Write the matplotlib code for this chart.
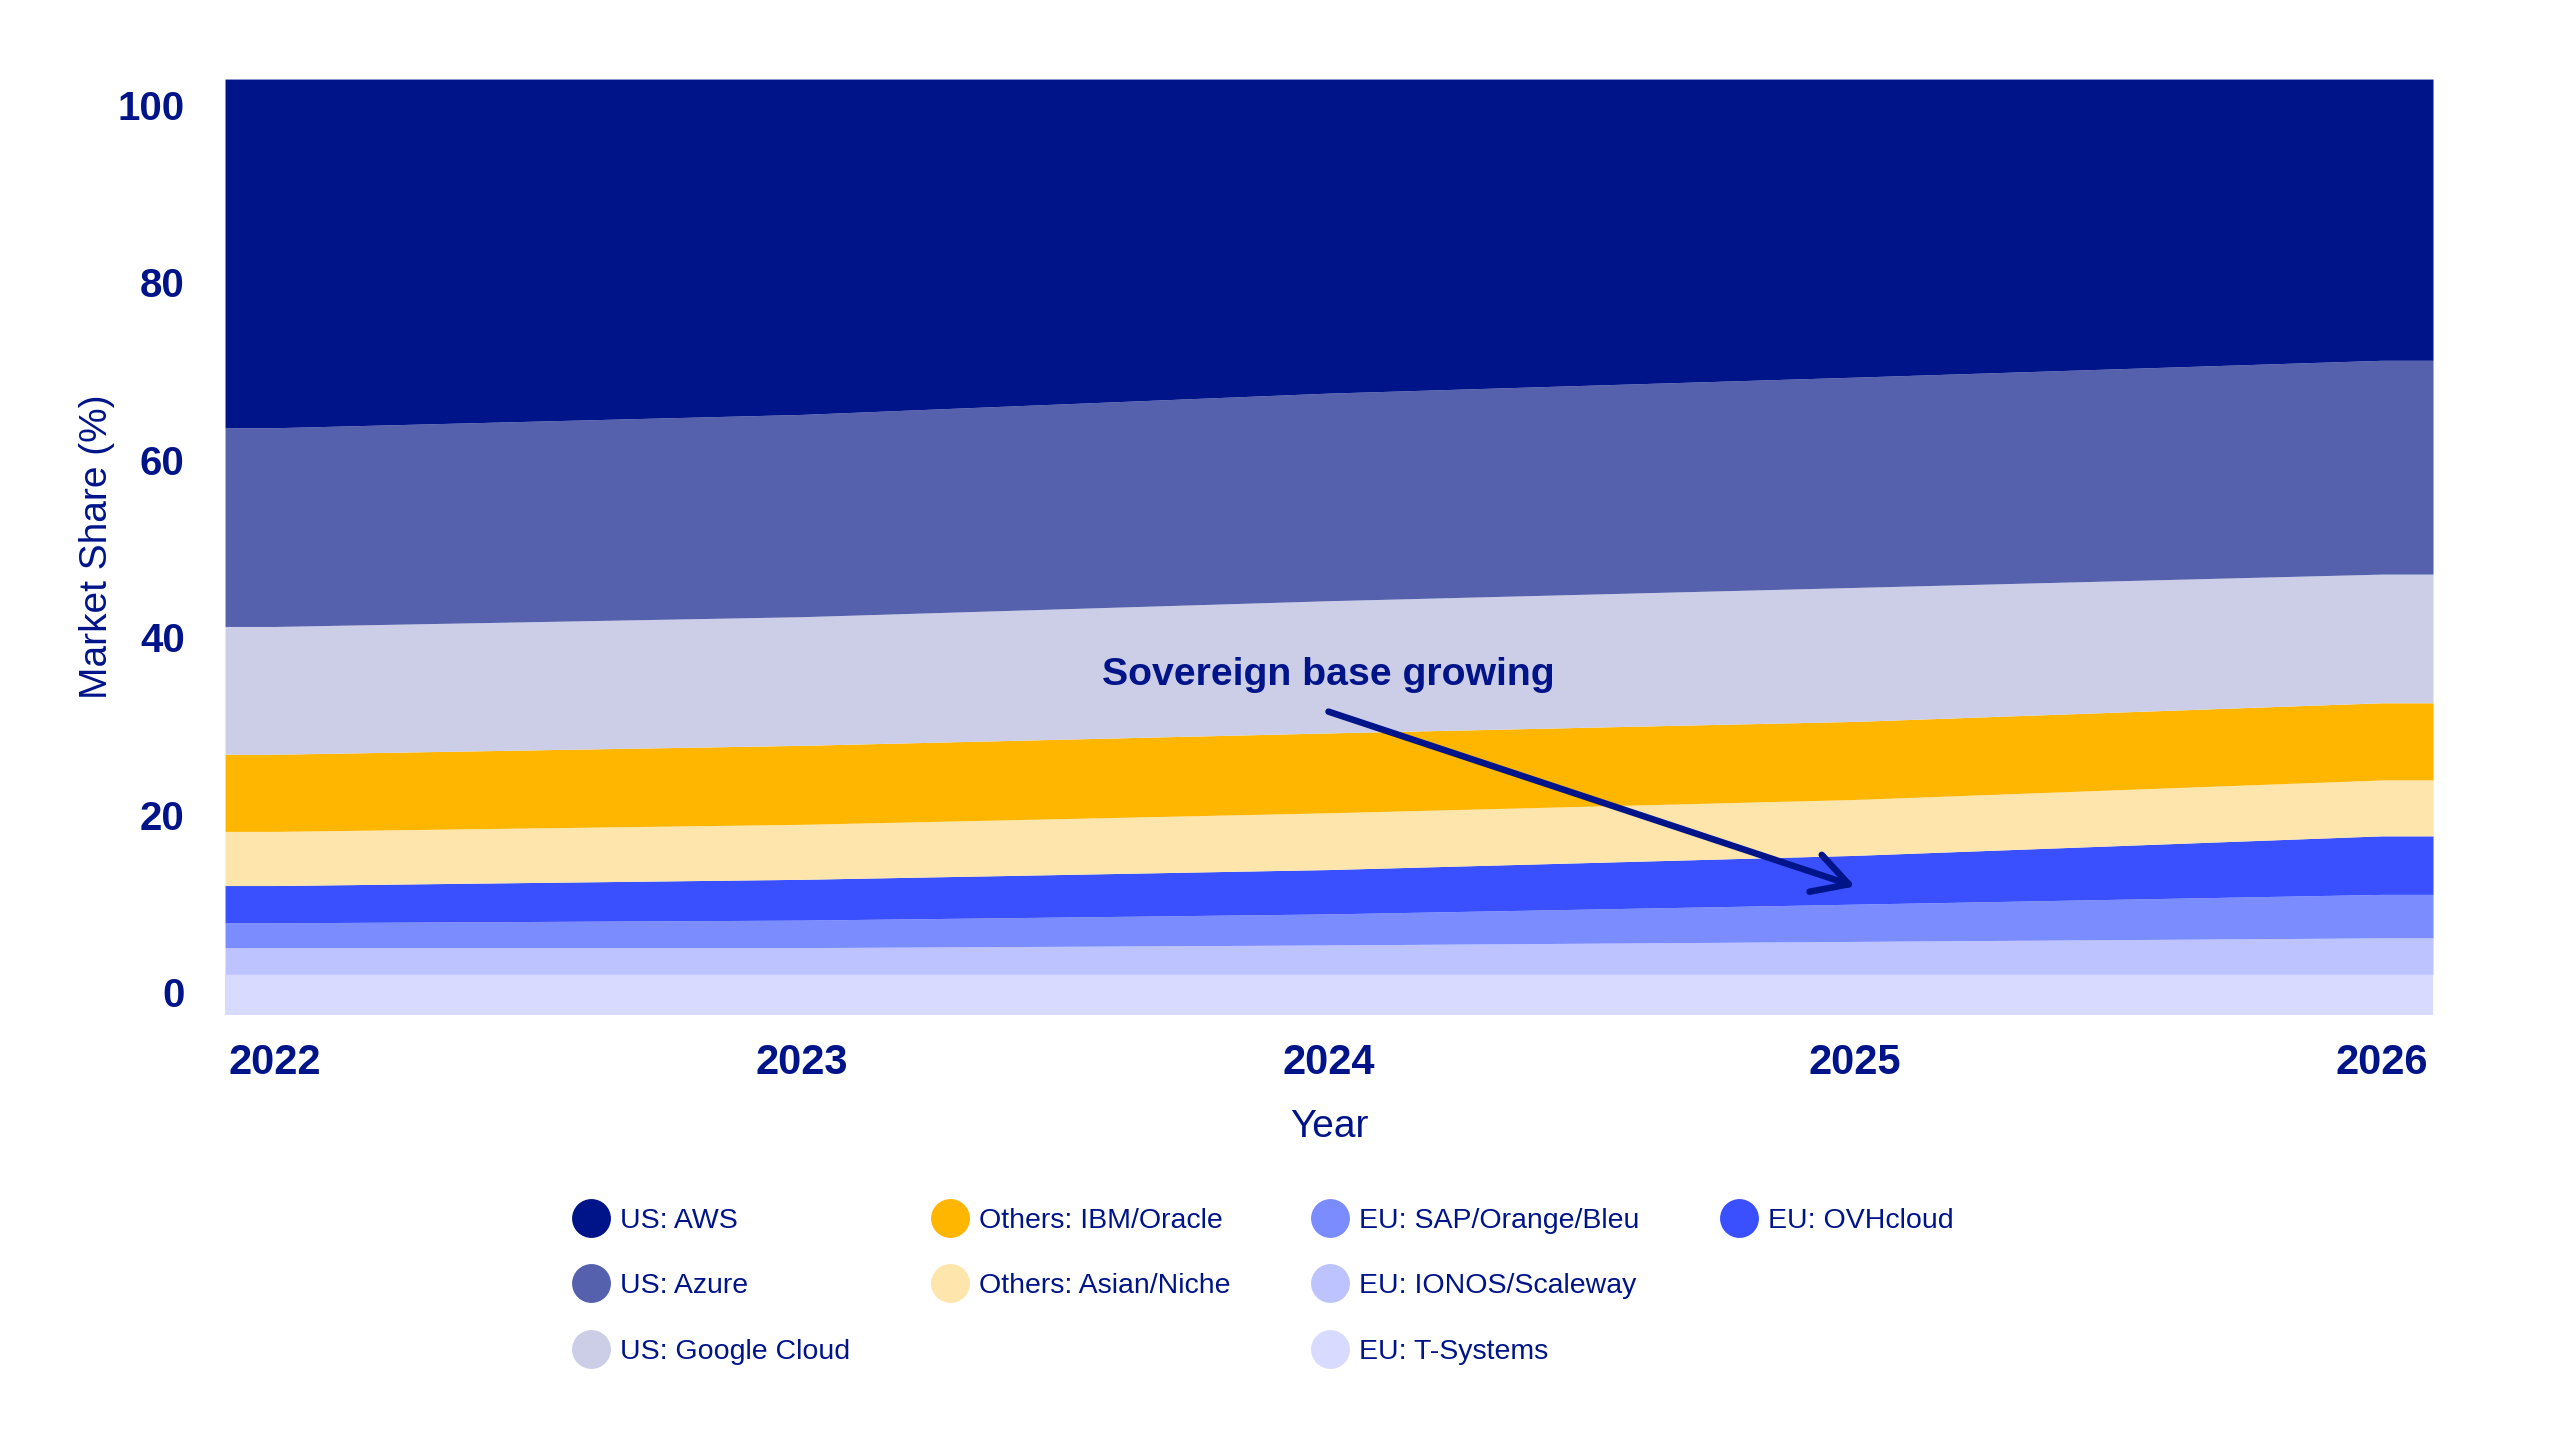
import numpy as np
import matplotlib
matplotlib.use("Agg")
import matplotlib.pyplot as plt
from matplotlib.lines import Line2D

# market share per year (%), stacked bottom -> top
years = [2022, 2023, 2024, 2025, 2026]
t_systems = [2.0, 2.0, 2.0, 2.0, 2.0]
ionos_scaleway = [3.0, 3.0, 3.3, 3.7, 4.1]
sap_orange_bleu = [2.8, 3.1, 3.5, 4.2, 4.9]
ovhcloud = [4.2, 4.6, 5.0, 5.5, 6.6]
asian_niche = [6.1, 6.2, 6.4, 6.3, 6.3]
ibm_oracle = [8.7, 8.9, 9.0, 8.8, 8.7]
google_cloud = [14.4, 14.5, 14.9, 15.1, 14.5]
azure = [22.4, 22.8, 23.4, 23.7, 24.1]
aws = [36.4, 34.9, 32.5, 30.7, 28.8]

labels = ["EU: T-Systems", "EU: IONOS/Scaleway", "EU: SAP/Orange/Bleu", "EU: OVHcloud",
          "Others: Asian/Niche", "Others: IBM/Oracle", "US: Google Cloud", "US: Azure", "US: AWS"]
series = [t_systems, ionos_scaleway, sap_orange_bleu, ovhcloud,
          asian_niche, ibm_oracle, google_cloud, azure, aws]
colors = ["#D8DAFF", "#BCC3FF", "#7B8CFF", "#3A50FF",
          "#FEE5AB", "#FFB600", "#CCCEE8", "#5561AD", "#00148A"]

NAVY = "#00148A"
FONT = "Liberation Sans"

fig = plt.figure(figsize=(25.6, 14.4), dpi=100)
ax = fig.add_axes([0.0879, 0.2951, 0.8625, 0.65])

xlo, xhi = 2021.905, 2026.097
ylo, yhi = -2.6, 102.9

# extend the areas to the plot edges
x_ext = np.r_[xlo, years, xhi]
vals = np.array([np.pad(np.array(s, dtype=float), 1, mode="edge") for s in series])
tops = np.cumsum(vals, axis=0)
bottoms = np.vstack([np.full(len(x_ext), ylo), tops[:-1]])
tops[-1] = yhi

for i in range(len(series)):
    ax.fill_between(x_ext, bottoms[i], tops[i], color=colors[i], linewidth=0)

ax.set_xlim(xlo, xhi)
ax.set_ylim(ylo, yhi)
ax.set_xticks(years)
ax.set_xticklabels([str(y) for y in years], fontsize=30, fontweight="bold", family=FONT, color=NAVY)
ax.set_yticks([0, 20, 40, 60, 80, 100])
ax.set_yticklabels(["0", "20", "40", "60", "80", "100"], fontsize=29, fontweight="bold", family=FONT, color=NAVY)
ax.tick_params(axis="x", length=0, pad=20)
ax.tick_params(axis="y", length=0, pad=29)
for sp in ax.spines.values():
    sp.set_visible(False)

ax.set_xlabel("Year", fontsize=28, family=FONT, color=NAVY, labelpad=19)
ax.set_ylabel("Market Share (%)", fontsize=28, family=FONT, color=NAVY, labelpad=2)

# annotation
ax.text(2024.0, 35.75, "Sovereign base growing", fontsize=28.3, fontweight="bold",
        family=FONT, color=NAVY, ha="center", va="center")
ax.annotate("", xy=(2025.0, 11.9), xytext=(2024.0, 31.6),
            arrowprops=dict(arrowstyle="->,head_length=0.9,head_width=0.5", color=NAVY,
                            lw=4.7, shrinkA=0, shrinkB=0, mutation_scale=28,
                            capstyle="round", joinstyle="round"))

# legend: column order as in the reference, blanks fill the empty slots
order = [8, 7, 6, 5, 4, None, 2, 1, 0, 3, None, None]
handles, texts = [], []
for k in order:
    if k is None:
        handles.append(Line2D([], [], linestyle="none", marker=None))
        texts.append("")
    else:
        handles.append(Line2D([], [], linestyle="none", marker="o", markersize=28,
                              markerfacecolor=colors[k], markeredgewidth=0))
        texts.append(labels[k])
leg = fig.legend(handles, texts, loc="upper left", bbox_to_anchor=(0.2254, 0.161),
                 ncol=4, frameon=False, borderpad=0, borderaxespad=0,
                 handlelength=1.0, handletextpad=0.5, columnspacing=3.02,
                 labelspacing=1.38, prop={"family": FONT, "size": 20.5})
for t in leg.get_texts():
    t.set_color(NAVY)

fig.savefig("out.png", dpi=100)
